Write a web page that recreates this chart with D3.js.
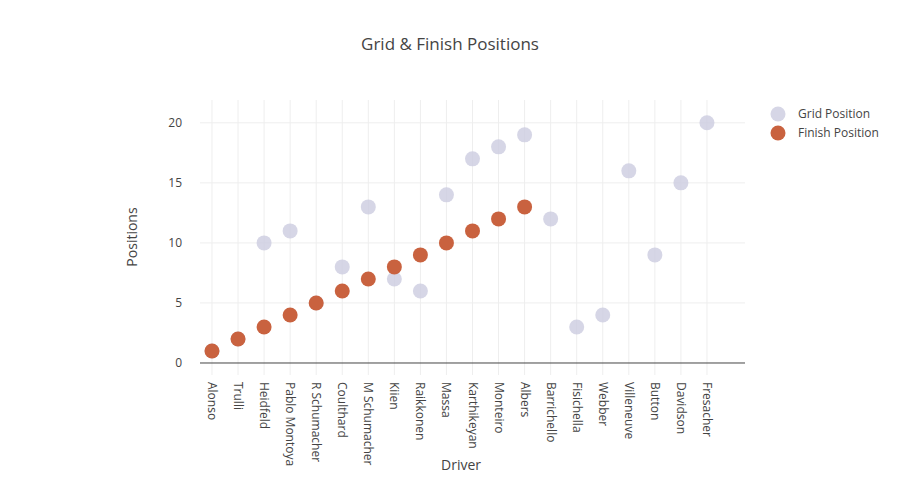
<!DOCTYPE html>
<html><head><meta charset="utf-8">
<script src="https://cdn.jsdelivr.net/npm/d3@7"></script>
<style>body{margin:0;background:#fff}text{font-family:"Open Sans",Arial,sans-serif}</style>
</head><body>
<script>
const drivers = ['Alonso','Trulli','Heidfeld','Pablo Montoya','R Schumacher','Coulthard','M Schumacher','Kiien','Raikkonen','Massa','Karthikeyan','Monteiro','Albers','Barrichello','Fisichella','Webber','Villeneuve','Button','Davidson','Fresacher'];
const gridPos = [1,2,10,11,5,8,13,7,6,14,17,18,19,12,3,4,16,9,15,20];
const finishPos = [1,2,3,4,5,6,7,8,9,10,11,12,13];
const yTicks = [0,5,10,15,20];

const width = 900, height = 500;
const gridColor = 'rgba(204,204,224,0.8)', finishColor = '#c9623f';

const svg = d3.select('body').append('svg').attr('width', width).attr('height', height);

const x = d3.scaleLinear().domain([-0.46, 20.46]).range([200, 745]);
const y = d3.scaleLinear().domain([-1, 21.9]).range([375, 100]);

// grid lines
svg.append('g').selectAll('line').data(drivers).enter().append('line')
  .attr('x1', (d, i) => x(i)).attr('x2', (d, i) => x(i))
  .attr('y1', 100).attr('y2', 375).attr('stroke', '#eee');
svg.append('g').selectAll('line').data(yTicks.slice(1)).enter().append('line')
  .attr('x1', 200).attr('x2', 745).attr('y1', d => y(d)).attr('y2', d => y(d)).attr('stroke', '#eee');
svg.append('line').attr('x1', 200).attr('x2', 745).attr('y1', y(0)).attr('y2', y(0))
  .attr('stroke', '#444').attr('stroke-width', 1);

// y axis
const yAxis = d3.axisLeft(y).tickValues(yTicks).tickSize(0).tickPadding(8);
svg.append('g').attr('transform', 'translate(190,0)').call(yAxis)
  .call(g => g.select('.domain').remove())
  .call(g => g.selectAll('text').attr('fill', '#444').style('font-size', '12px').attr('dx', 0));

// x labels
svg.append('g').selectAll('text').data(drivers).enter().append('text')
  .attr('transform', (d, i) => `translate(${x(i) - 4},382) rotate(90)`)
  .attr('fill', '#444').style('font-size', '12px').text(d => d);

// points
svg.append('g').selectAll('circle').data(gridPos).enter().append('circle')
  .attr('cx', (d, i) => x(i)).attr('cy', d => y(d)).attr('r', 7.5).attr('fill', gridColor);
svg.append('g').selectAll('circle').data(finishPos).enter().append('circle')
  .attr('cx', (d, i) => x(i)).attr('cy', d => y(d)).attr('r', 7.5).attr('fill', finishColor);

// titles
svg.append('text').attr('x', 450).attr('y', 50).attr('text-anchor', 'middle')
  .attr('fill', '#444').style('font-size', '17px').text('Grid & Finish Positions');
svg.append('text').attr('x', 461).attr('y', 470).attr('text-anchor', 'middle')
  .attr('fill', '#444').style('font-size', '14px').text('Driver');
svg.append('text').attr('transform', 'translate(137,237) rotate(-90)').attr('text-anchor', 'middle')
  .attr('fill', '#444').style('font-size', '14px').text('Positions');

// legend
const legend = [['Grid Position', gridColor], ['Finish Position', finishColor]];
const lg = svg.append('g').selectAll('g').data(legend).enter().append('g')
  .attr('transform', (d, i) => `translate(778,${114 + i * 19})`);
lg.append('circle').attr('r', 7.5).attr('fill', d => d[1]);
lg.append('text').attr('x', 20).attr('y', 4).attr('fill', '#444').style('font-size', '12px').text(d => d[0]);
</script>
</body></html>
